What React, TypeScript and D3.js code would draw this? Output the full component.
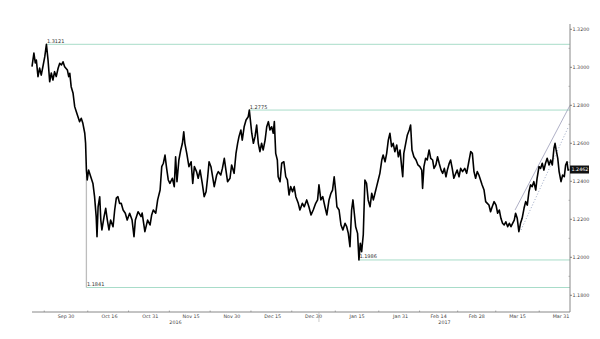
import React from "react";
import * as d3 from "d3";

// ---- data (GBP/USD, days relative to 2016-09-30) ----
const baseDateStr = "2016-09-30";
const dayOffsets = [
  -12.5,-11.8,-11.3,-10.9,-10.3,-9.7,-9.1,-8.5,-7.8,-7.2,
  -6.6,-6.0,-5.4,-4.8,-4.2,-3.6,-2.9,-2.3,-1.7,-1.1,
  -0.5,0.5,1.0,1.4,1.9,2.6,2.9,3.2,3.8,4.4,
  5.0,5.6,6.2,6.9,7.2,7.5,7.8,8.3,9.1,9.9,
  10.5,11.1,11.4,11.8,12.4,12.8,13.2,14.0,14.6,15.2,
  15.8,16.4,17.3,17.9,18.5,19.1,19.7,20.3,21.0,21.8,
  22.5,23.4,24.3,25.0,25.5,26.5,27.6,28.0,29.0,30.0,
  30.9,31.5,32.1,33.0,33.7,34.6,35.2,35.8,36.4,37.0,
  37.6,38.2,39.1,39.8,40.3,40.8,41.5,42.2,42.8,43.3,
  43.7,44.4,45.2,46.0,46.6,47.2,48.0,48.6,49.3,50.1,
  50.8,51.5,52.1,52.6,53.3,53.9,54.5,55.4,56.0,56.9,
  57.5,58.2,58.8,59.4,60.3,60.9,61.8,62.5,63.1,63.6,
  64.3,64.8,65.5,66.2,67.0,67.4,68.3,68.9,69.5,70.1,
  70.7,71.3,71.9,72.5,73.2,73.8,74.4,75.0,75.6,76.2,
  76.6,77.1,77.7,78.0,78.7,79.3,80.1,80.8,81.4,82.0,
  82.6,83.3,83.9,84.5,85.4,86.0,86.9,87.6,88.5,89.3,
  90.1,90.9,91.8,92.5,93.0,93.7,94.4,95.2,95.9,96.7,
  97.4,98.0,98.6,99.1,99.6,100.4,101.1,101.8,102.6,103.2,
  103.8,104.4,105.0,105.5,106.0,106.5,107.2,107.7,108.2,108.7,
  109.3,109.9,110.5,111.1,111.8,112.4,113.0,113.6,114.2,114.8,
  115.4,116.1,116.6,117.3,117.9,118.5,119.1,119.7,120.3,120.9,
  121.6,122.2,122.8,123.4,123.8,124.2,124.9,125.5,126.2,126.7,
  127.2,127.9,128.7,129.4,130.1,130.8,131.1,131.6,132.2,132.8,
  133.5,134.1,134.8,135.3,136.0,136.6,137.2,137.9,138.5,139.1,
  139.7,140.2,140.9,141.4,142.0,142.6,143.3,143.8,144.5,145.1,
  145.8,146.6,147.3,148.0,148.8,149.4,150.0,150.6,151.2,151.8,
  152.4,153.0,153.7,154.3,154.9,155.5,156.1,156.7,157.4,158.1,
  158.7,159.3,159.9,160.5,161.1,161.7,162.4,163.0,163.6,164.2,
  164.8,165.3,165.9,166.5,167.1,167.7,168.4,169.0,169.6,170.2,
  170.8,171.4,172.0,172.7,173.2,173.9,174.5,175.1,175.7,176.3,
  176.9,177.6,178.2,178.8,179.4,179.8,180.2,180.8,181.3,182.0,
  182.6,183.2,183.7,184.2,184.6,185.1,
];
const prices = [
  1.3003,1.3075,1.3023,1.3038,1.2951,1.2996,1.2959,1.3003,1.3056,1.3121,
  1.3038,1.2924,1.2970,1.2933,1.2977,1.2951,1.2995,1.3021,1.3012,1.3029,
  1.3003,1.2986,1.2951,1.2968,1.2898,1.2863,1.2828,1.2793,1.2766,1.2740,
  1.2714,1.2732,1.2705,1.2653,1.2600,1.2459,1.2407,1.2459,1.2424,1.2389,
  1.2319,1.2214,1.2108,1.2266,1.2319,1.2196,1.2144,1.2214,1.2258,1.2196,
  1.2144,1.2196,1.2161,1.2249,1.2311,1.2319,1.2284,1.2284,1.2249,1.2232,
  1.2196,1.2232,1.2196,1.2108,1.2196,1.2240,1.2214,1.2233,1.2135,1.2196,
  1.2170,1.2223,1.2249,1.2232,1.2302,1.2354,1.2477,1.2495,1.2538,1.2468,
  1.2407,1.2389,1.2416,1.2372,1.2529,1.2398,1.2512,1.2565,1.2600,1.2661,
  1.2600,1.2547,1.2477,1.2503,1.2389,1.2477,1.2451,1.2416,1.2459,1.2389,
  1.2319,1.2345,1.2424,1.2503,1.2477,1.2424,1.2372,1.2433,1.2451,1.2433,
  1.2468,1.2521,1.2459,1.2398,1.2416,1.2486,1.2442,1.2547,1.2600,1.2635,
  1.2670,1.2617,1.2687,1.2723,1.2740,1.2775,1.2653,1.2600,1.2635,1.2696,
  1.2600,1.2556,1.2600,1.2565,1.2617,1.2687,1.2714,1.2670,1.2687,1.2653,
  1.2714,1.2547,1.2512,1.2424,1.2398,1.2495,1.2503,1.2424,1.2407,1.2328,
  1.2372,1.2345,1.2372,1.2319,1.2284,1.2249,1.2284,1.2266,1.2302,1.2266,
  1.2223,1.2249,1.2284,1.2302,1.2381,1.2302,1.2319,1.2266,1.2223,1.2302,
  1.2337,1.2354,1.2424,1.2354,1.2266,1.2249,1.2170,1.2144,1.2179,1.2161,
  1.2126,1.2056,1.2249,1.2302,1.2232,1.2161,1.2126,1.1986,1.2074,1.2030,
  1.2120,1.2407,1.2389,1.2302,1.2266,1.2337,1.2302,1.2337,1.2372,1.2407,
  1.2442,1.2512,1.2538,1.2503,1.2547,1.2617,1.2653,1.2582,1.2600,1.2556,
  1.2591,1.2529,1.2565,1.2477,1.2424,1.2547,1.2600,1.2644,1.2670,1.2696,
  1.2565,1.2529,1.2512,1.2486,1.2477,1.2459,1.2363,1.2477,1.2521,1.2512,
  1.2565,1.2521,1.2512,1.2468,1.2486,1.2529,1.2495,1.2459,1.2442,1.2468,
  1.2424,1.2459,1.2495,1.2512,1.2468,1.2416,1.2442,1.2459,1.2424,1.2468,
  1.2451,1.2468,1.2442,1.2495,1.2556,1.2547,1.2451,1.2416,1.2451,1.2433,
  1.2407,1.2381,1.2354,1.2293,1.2284,1.2275,1.2240,1.2266,1.2293,1.2275,
  1.2232,1.2249,1.2205,1.2179,1.2170,1.2187,1.2161,1.2179,1.2161,1.2179,
  1.2196,1.2232,1.2205,1.2135,1.2179,1.2205,1.2258,1.2293,1.2275,1.2345,
  1.2381,1.2372,1.2398,1.2354,1.2416,1.2477,1.2468,1.2495,1.2459,1.2495,
  1.2521,1.2486,1.2512,1.2486,1.2574,1.2600,1.2565,1.2521,1.2451,1.2398,
  1.2433,1.2424,1.2486,1.2503,1.2459,1.2462,
];

// flash crash wick
const crashOffset = 7.5;
const crashTop = 1.243;
const crashLow = 1.1841;

// annotated levels
const levelValues = [1.3121, 1.2775, 1.1986, 1.1841];
const levelStartOffsets = [-7.2, 67.4, 107.7, 7.5];

// trend lines
const trendSolidOffsets = [165.1, 185.3];
const trendSolidValues = [1.2249, 1.28];
const trendDottedOffsets = [167.3, 184.7];
const trendDottedValues = [1.2144, 1.2686];

// axis
const domainOffsets = [-12.5, 185.3];
const xLabelDates = ["2016-09-30","2016-10-16","2016-10-31","2016-11-15","2016-11-30","2016-12-15","2016-12-30","2017-01-15","2017-01-31","2017-02-14","2017-02-28","2017-03-15","2017-03-31"];
const xLabelTexts = ["Sep 30","Oct 16","Oct 31","Nov 15","Nov 30","Dec 15","Dec 30","Jan 15","Jan 31","Feb 14","Feb 28","Mar 15","Mar 31"];
const xTickDates = ["2016-09-22","2016-10-08","2016-10-23","2016-11-07","2016-11-22","2016-12-07","2016-12-22","2017-01-07","2017-01-23","2017-02-07","2017-02-21","2017-03-07","2017-03-23"];
const yearBreak = "2017-01-01";
const yearLabels = ["2016", "2017"];
const yTicks = [1.18, 1.2, 1.22, 1.24, 1.26, 1.28, 1.3, 1.32];
const yMinorTicks = [1.19, 1.21, 1.23, 1.25, 1.27, 1.29, 1.31];
const lastPrice = 1.2462;

const W = 600, H = 339;
const FONT = "DejaVu Sans, Verdana, sans-serif";

export default function App() {
  const parse = d3.timeParse("%Y-%m-%d");
  const base = parse(baseDateStr)!;
  const dayMs = 86400000;
  const toDate = (o: number) => new Date(base.getTime() + o * dayMs);

  const plotLeft = 32, plotRight = 570, plotTop = 24, plotBottom = 312;
  const x = d3.scaleTime().domain(domainOffsets.map(toDate)).range([plotLeft, plotRight]);
  const y = d3.scaleLinear().domain([1.18, 1.32]).range([295.3, 29.3]);

  const n = Math.min(dayOffsets.length, prices.length);
  const pts: [Date, number][] = [];
  for (let i = 0; i < n; i++) pts.push([toDate(dayOffsets[i]), prices[i]]);

  const line = d3.line<[Date, number]>().x((d) => x(d[0])).y((d) => y(d[1]));

  const yb = x(parse(yearBreak)!);
  const yearMid = [(plotLeft + yb) / 2, (yb + plotRight) / 2];

  return (
    <svg width={W} height={H} style={{ position: "absolute", left: 0, top: 0, background: "#fff" }} fontFamily={FONT}>
      {/* level lines */}
      {levelValues.map((v, i) => (
        <g key={"lv" + i}>
          <line x1={x(toDate(levelStartOffsets[i]))} x2={plotRight} y1={y(v)} y2={y(v)} stroke="#a8dcc9" strokeWidth={1} />
          <text x={x(toDate(levelStartOffsets[i])) + 0.5} y={y(v) - 1.5} fontSize={5} fill="#333">{v.toFixed(4)}</text>
        </g>
      ))}

      {/* trend lines */}
      <line x1={x(toDate(trendSolidOffsets[0]))} y1={y(trendSolidValues[0])} x2={x(toDate(trendSolidOffsets[1]))} y2={y(trendSolidValues[1])} stroke="#9a9cb8" strokeWidth={0.8} />
      <line x1={x(toDate(trendDottedOffsets[0]))} y1={y(trendDottedValues[0])} x2={x(toDate(trendDottedOffsets[1]))} y2={y(trendDottedValues[1])} stroke="#8090b4" strokeWidth={0.8} strokeDasharray="1,2" />

      {/* flash crash wick */}
      <line x1={x(toDate(crashOffset))} x2={x(toDate(crashOffset))} y1={y(crashTop)} y2={y(crashLow)} stroke="#bdbdbd" strokeWidth={1.3} />

      {/* price line */}
      <path d={line(pts) || ""} fill="none" stroke="#000" strokeWidth={1.6} strokeLinejoin="round" />

      {/* right axis */}
      <line x1={plotRight} x2={plotRight} y1={plotTop} y2={plotBottom} stroke="#888" strokeWidth={1} />
      {yTicks.map((v) => (
        <g key={"yt" + v}>
          <line x1={plotRight} x2={plotRight + 2} y1={y(v)} y2={y(v)} stroke="#666" strokeWidth={0.8} />
          <text x={plotRight + 2.5} y={y(v) + 1.8} fontSize={4.8} fill="#444">{v.toFixed(4)}</text>
        </g>
      ))}
      {yMinorTicks.map((v) => (
        <line key={"ym" + v} x1={plotRight - 1.5} x2={plotRight} y1={y(v)} y2={y(v)} stroke="#888" strokeWidth={0.6} />
      ))}

      {/* last price tag */}
      <rect x={plotRight} y={y(lastPrice) - 4} width={19} height={8} fill="#111" />
      <text x={plotRight + 1.5} y={y(lastPrice) + 1.8} fontSize={4.8} fill="#fff">{lastPrice.toFixed(4)}</text>

      {/* bottom axis */}
      <line x1={plotLeft} x2={plotRight} y1={plotBottom} y2={plotBottom} stroke="#888" strokeWidth={1} />
      {xTickDates.map((s) => (
        <line key={"xt" + s} x1={x(parse(s)!)} x2={x(parse(s)!)} y1={plotBottom - 1.5} y2={plotBottom} stroke="#777" strokeWidth={0.6} />
      ))}
      <line x1={yb} x2={yb} y1={plotBottom} y2={plotBottom + 10} stroke="#aaa" strokeWidth={0.6} />
      {xLabelDates.map((s, i) => (
        <text key={"xl" + s} x={x(parse(s)!)} y={plotBottom + 5.5} fontSize={4.8} fill="#444" textAnchor="middle">{xLabelTexts[i]}</text>
      ))}
      {yearLabels.map((t, i) => (
        <text key={"yl" + t} x={yearMid[i]} y={plotBottom + 11.5} fontSize={4.8} fill="#444" textAnchor="middle">{t}</text>
      ))}
    </svg>
  );
}
